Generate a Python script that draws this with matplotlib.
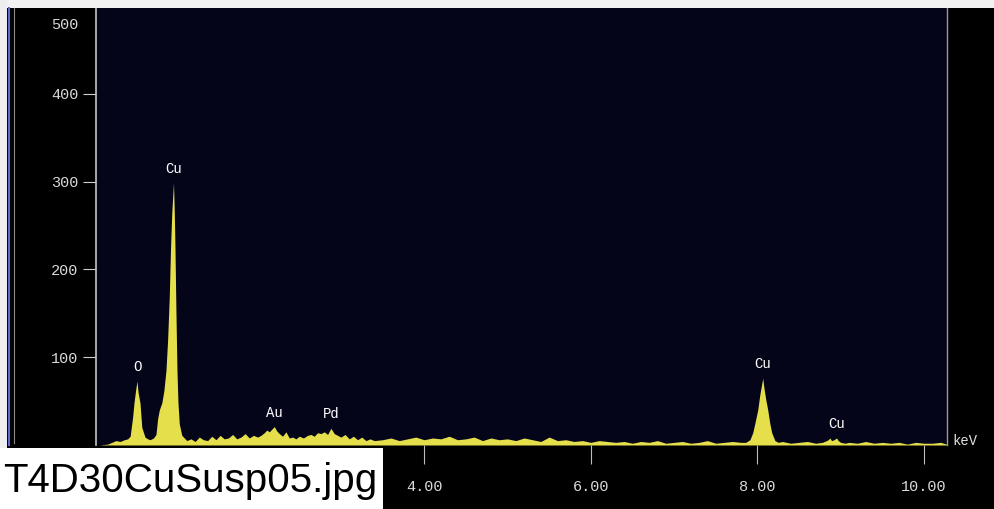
import numpy as np
import matplotlib
matplotlib.use("Agg")
import matplotlib.pyplot as plt
from matplotlib import font_manager
from matplotlib.patches import Rectangle
from matplotlib.lines import Line2D

# EDS spectrum: energy (keV) vs counts
energy_kev = [
    0.10, 0.20, 0.25, 0.30, 0.35, 0.40, 0.44,
    # O K
    0.47, 0.50, 0.516, 0.535, 0.552, 0.565, 0.588, 0.61, 0.648, 0.68, 0.71, 0.75,
    # Cu L
    0.78, 0.80, 0.82, 0.85, 0.875, 0.90, 0.92, 0.94, 0.955, 0.97, 0.99, 1.00,
    1.008, 1.02, 1.032, 1.044, 1.06, 1.09,
    1.12, 1.15, 1.20, 1.25, 1.30, 1.35, 1.40, 1.45, 1.50, 1.55, 1.60, 1.65,
    1.70, 1.75, 1.80, 1.85, 1.90, 1.95, 2.00,
    # Au M / Pd L
    2.04, 2.08, 2.11, 2.14, 2.17, 2.20, 2.23, 2.26, 2.30, 2.34, 2.38, 2.42,
    2.46, 2.50, 2.55, 2.60, 2.64, 2.68, 2.72, 2.76, 2.80, 2.84, 2.88, 2.92,
    2.96, 3.00, 3.05, 3.10, 3.15, 3.20, 3.25, 3.30, 3.35, 3.40,
    3.5, 3.6, 3.7, 3.8, 3.9, 4.0, 4.1, 4.2, 4.3, 4.4, 4.5, 4.6, 4.7, 4.8,
    4.9, 5.0, 5.1, 5.2, 5.3, 5.4, 5.5, 5.6, 5.7, 5.8, 5.9, 6.0, 6.1, 6.2,
    6.3, 6.4, 6.5, 6.6, 6.7, 6.8, 6.9, 7.0, 7.1, 7.2, 7.3, 7.4, 7.5, 7.6,
    7.7, 7.8,
    # Cu K-alpha
    7.86, 7.91, 7.944, 7.97, 8.004, 8.03, 8.064, 8.08, 8.10, 8.124, 8.15,
    8.172, 8.21, 8.25,
    # Cu K-beta
    8.3, 8.4, 8.5, 8.6, 8.7, 8.78, 8.83, 8.85, 8.87, 8.89, 8.92, 8.95, 8.97,
    9.00, 9.05,
    9.1, 9.2, 9.3, 9.4, 9.5, 9.6, 9.7, 9.8, 9.9, 10.0, 10.1, 10.2, 10.27,
]
counts = [
    0, 1, 3, 5, 4, 6, 7,
    10, 32, 48, 62, 73, 60, 48, 20, 9, 7, 6, 8,
    12, 30, 40, 48, 62, 85, 120, 170, 225, 265, 299, 265,
    225, 150, 85, 48, 24, 11,
    8, 5, 7, 4, 9, 6, 5, 10, 6, 11, 7, 8,
    12, 7, 9, 13, 8, 11, 9,
    11, 14, 17, 15, 18, 21, 16, 13, 10, 15, 8, 9,
    7, 10, 8, 11, 12, 10, 14, 13, 15, 12, 19, 13,
    11, 9, 12, 7, 10, 6, 9, 5, 7, 5,
    6, 8, 5, 7, 9, 6, 8, 7, 10, 6, 7, 9, 5, 8,
    6, 7, 5, 8, 6, 4, 9, 5, 6, 4, 5, 3, 5, 4,
    3, 4, 2, 4, 3, 5, 2, 3, 4, 2, 3, 5, 2, 3,
    4, 3,
    3, 6, 14, 25, 40, 58, 76, 64, 52, 40, 24,
    14, 5, 3,
    4, 2, 3, 4, 2, 3, 5, 6, 8, 5, 6, 8, 5,
    3, 2,
    3, 2, 4, 2, 3, 2, 3, 1, 3, 2, 2, 3, 1,
]

peak_names = ["O", "Cu", "Au", "Pd", "Cu", "Cu"]
peak_kev = [0.552, 0.99, 2.20, 2.88, 8.064, 8.95]

# the lower ticks sit behind the caption box, so only these are labelled
x_ticks = [4, 6, 8, 10]
x_tick_labels = ["4.00", "6.00", "8.00", "10.00"]
y_ticks = [100, 200, 300, 400]

W, H = 994, 509
plt.rcParams["font.family"] = ["Liberation Mono", "DejaVu Sans Mono"]

fig = plt.figure(figsize=(W / 100, H / 100), dpi=100, facecolor="black")


def fx(px):
    return px / W


def fy(py):
    return 1 - py / H


ax = fig.add_axes([fx(95.5), fy(445), fx(946.5) - fx(95.5), fy(8) - fy(445)])
ax.set_facecolor("#05051a")
ax.fill_between(energy_kev, counts, 0, color="#e6df4c", lw=0)
ax.set_xlim(0.054, 10.27)
ax.set_ylim(0, 498)

for side in ("top", "bottom"):
    ax.spines[side].set_visible(False)
ax.spines["left"].set_color("#c4c4c4")
ax.spines["left"].set_linewidth(1.2)
ax.spines["right"].set_color("#9a9a9a")
ax.spines["right"].set_linewidth(1.0)

ax.set_yticks(y_ticks)
ax.set_xticks(x_ticks)
ax.set_xticklabels(x_tick_labels)
ax.tick_params(axis="y", direction="out", length=9.5, width=0.8,
               color="#cfcfcf", pad=3, labelsize=11, labelcolor="#d9d9d9")
ax.tick_params(axis="x", direction="out", length=14, width=0.8,
               color="#bdbdbd", pad=11, labelsize=11, labelcolor="#d9d9d9")
ax.annotate("500", xy=(0, 1), xycoords="axes fraction", xytext=(-17.5, -17),
            textcoords="offset pixels", ha="right", va="center",
            fontsize=11, color="#d9d9d9")

# element labels above each peak
for name, e in zip(peak_names, peak_kev):
    c = np.interp(e, energy_kev, counts)
    ax.annotate(name, (e, c), xytext=(0, 14), textcoords="offset pixels",
                ha="center", va="center", fontsize=10, color="white")

fig.text(fx(965), fy(441), "keV", ha="center", va="center",
         fontsize=10, color="#e0e0e0")

# window frame around the spectrum panel
fig.add_artist(Rectangle((0, fy(8)), 1, 8 / H, transform=fig.transFigure,
                         color="#f2f2f2", lw=0))
fig.add_artist(Rectangle((0, 0), fx(7), 1, transform=fig.transFigure,
                         color="#eeeeee", lw=0))
fig.add_artist(Line2D([fx(8.5)] * 2, [fy(445), fy(8)], transform=fig.transFigure,
                      color="#5a6ad0", lw=1.5))
fig.add_artist(Line2D([fx(14)] * 2, [fy(443), fy(8)], transform=fig.transFigure,
                      color="#8a8a8a", lw=0.8))

# file name caption box
fig.add_artist(Rectangle((0, 0), fx(383), (H - 448) / H, transform=fig.transFigure,
                         color="white", lw=0, zorder=10))
names = {f.name for f in font_manager.fontManager.ttflist}
if "Liberation Sans Narrow" in names:
    cap_family, cap_size = "Liberation Sans Narrow", 36
else:
    cap_family, cap_size = "Liberation Sans", 29
fig.text(fx(190), fy(481), "T4D30CuSusp05.jpg", ha="center", va="center",
         fontsize=cap_size, family=cap_family, color="black", zorder=11)

fig.savefig("out.png", dpi=100, facecolor="black")
